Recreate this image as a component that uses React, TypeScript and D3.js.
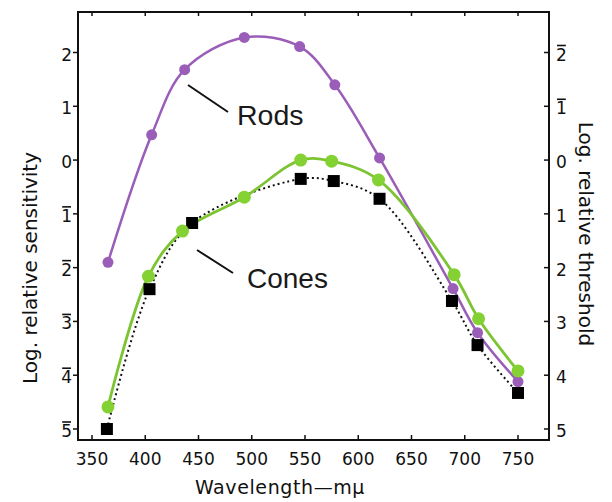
import React, { useRef, useEffect } from 'react';
import * as d3 from 'd3';

// values (wavelength in m\u03bc, log relative sensitivity)
const rodWavelengths = [365, 406, 437, 493, 545, 578, 620, 689, 712, 750];
const rodValues = [-1.9, 0.47, 1.68, 2.28, 2.11, 1.4, 0.04, -2.39, -3.21, -4.12];

const coneWavelengths = [365, 403, 435, 493, 546, 575, 619, 690, 713, 750];
const coneValues = [-4.59, -2.16, -1.32, -0.69, 0.0, -0.02, -0.37, -2.13, -2.95, -3.92];

const thresholdWavelengths = [364, 404, 444, 546, 577, 620, 688, 712, 750];
const thresholdValues = [-5.0, -2.4, -1.17, -0.35, -0.39, -0.72, -2.62, -3.44, -4.33];

const xTicks = [350, 400, 450, 500, 550, 600, 650, 700, 750];
const yTicks = [2, 1, 0, -1, -2, -3, -4, -5];

const W = 612;
const H = 502;
const FONT = '"DejaVu Sans", sans-serif';

export default function App() {
  const svgRef = useRef<SVGSVGElement>(null);

  useEffect(() => {
    const svg = d3.select(svgRef.current);
    svg.selectAll('*').remove();

    const left = 78, right = 549, top = 12, bottom = 440;

    const x = d3.scaleLinear().domain([350, 750]).range([92, 518]);
    const y = d3.scaleLinear().domain([2, -5]).range([52.5, 429]);

    const line = d3.line<[number, number]>()
      .x(d => x(d[0]))
      .y(d => y(d[1]))
      .curve(d3.curveCatmullRom.alpha(0.5));

    const zip = (a: number[], b: number[]) => a.map((v, i) => [v, b[i]] as [number, number]);
    const rods = zip(rodWavelengths, rodValues);
    const cones = zip(coneWavelengths, coneValues);
    const thresh = zip(thresholdWavelengths, thresholdValues);

    const g = svg.append('g');

    // frame
    g.append('rect')
      .attr('x', left).attr('y', top)
      .attr('width', right - left).attr('height', bottom - top)
      .attr('fill', 'none').attr('stroke', '#111').attr('stroke-width', 2);

    // x ticks (bottom + top, inward)
    xTicks.forEach(t => {
      g.append('line').attr('x1', x(t)).attr('x2', x(t)).attr('y1', bottom).attr('y2', bottom - 5)
        .attr('stroke', '#111').attr('stroke-width', 1.5);
      g.append('line').attr('x1', x(t)).attr('x2', x(t)).attr('y1', top).attr('y2', top + 4)
        .attr('stroke', '#111').attr('stroke-width', 1.5);
      g.append('text')
        .attr('x', x(t)).attr('y', 465)
        .attr('text-anchor', 'middle')
        .style('font-family', FONT).style('font-size', '17px').style('fill', '#111')
        .text(String(t));
    });

    // bar notation for negative logs: digit + small bar above it
    const label = (xPos: number, v: number, anchor: string, yPos: number) => {
      const txt = g.append('text')
        .attr('x', xPos).attr('y', yPos)
        .attr('text-anchor', anchor)
        .style('font-family', FONT).style('font-size', '17px').style('fill', '#111')
        .text(String(Math.abs(v)));
      if (v < 0) {
        const w = (txt.node() as SVGTextElement).getComputedTextLength();
        const x0 = anchor === 'end' ? xPos - w : xPos;
        g.append('line')
          .attr('x1', x0 + 1).attr('x2', x0 + w - 1)
          .attr('y1', yPos - 15).attr('y2', yPos - 15)
          .attr('stroke', '#111').attr('stroke-width', 1.6);
      }
    };

    // y ticks: left outward, right inward
    yTicks.forEach(t => {
      g.append('line').attr('x1', left).attr('x2', left - 5).attr('y1', y(t)).attr('y2', y(t))
        .attr('stroke', '#111').attr('stroke-width', 1.5);
      g.append('line').attr('x1', right).attr('x2', right - 5).attr('y1', y(t)).attr('y2', y(t))
        .attr('stroke', '#111').attr('stroke-width', 1.5);
      label(72, t, 'end', y(t) + 8);
      label(556, -t, 'start', y(t) + 8);
    });

    // axis titles
    g.append('text')
      .attr('x', 280).attr('y', 494)
      .attr('text-anchor', 'middle')
      .style('font-family', FONT).style('font-size', '19px').style('fill', '#111')
      .style('letter-spacing', '0.6px')
      .text('Wavelength\u2014m\u03bc');

    g.append('text')
      .attr('transform', 'translate(37,268) rotate(-90)')
      .attr('text-anchor', 'middle')
      .style('font-family', FONT).style('font-size', '20px').style('fill', '#111')
      .text('Log. relative sensitivity');

    g.append('text')
      .attr('transform', 'translate(579,234) rotate(90)')
      .attr('text-anchor', 'middle')
      .style('font-family', FONT).style('font-size', '20px').style('fill', '#111')
      .text('Log. relative threshold');

    // curves
    g.append('path').attr('d', line(thresh))
      .attr('fill', 'none').attr('stroke', '#111').attr('stroke-width', 2)
      .attr('stroke-dasharray', '2,3');
    g.append('path').attr('d', line(rods))
      .attr('fill', 'none').attr('stroke', '#9a5db8').attr('stroke-width', 2.5);
    g.append('path').attr('d', line(cones))
      .attr('fill', 'none').attr('stroke', '#7cc432').attr('stroke-width', 2.8);

    // markers
    g.selectAll('rect.sq').data(thresh).enter().append('rect')
      .attr('class', 'sq')
      .attr('x', d => x(d[0]) - 6).attr('y', d => y(d[1]) - 6)
      .attr('width', 12).attr('height', 12)
      .attr('fill', '#000');
    g.selectAll('circle.rod').data(rods).enter().append('circle')
      .attr('class', 'rod')
      .attr('cx', d => x(d[0])).attr('cy', d => y(d[1])).attr('r', 5.5)
      .attr('fill', '#9a5db8');
    g.selectAll('circle.cone').data(cones).enter().append('circle')
      .attr('class', 'cone')
      .attr('cx', d => x(d[0])).attr('cy', d => y(d[1])).attr('r', 6.5)
      .attr('fill', '#84d133');

    // labels with leader lines
    g.append('line').attr('x1', 188).attr('y1', 85).attr('x2', 228).attr('y2', 112)
      .attr('stroke', '#111').attr('stroke-width', 2);
    g.append('text')
      .attr('x', 237).attr('y', 125)
      .style('font-family', '"Liberation Sans", Arial, sans-serif').style('font-size', '28.5px').style('fill', '#1a1a1a')
      .text('Rods');

    g.append('line').attr('x1', 197).attr('y1', 250).attr('x2', 233).attr('y2', 273)
      .attr('stroke', '#111').attr('stroke-width', 2);
    g.append('text')
      .attr('x', 247).attr('y', 288)
      .style('font-family', '"Liberation Sans", Arial, sans-serif').style('font-size', '28px').style('fill', '#1a1a1a')
      .text('Cones');
  }, []);

  return (
    <svg
      ref={svgRef}
      width={W}
      height={H}
      style={{ position: 'absolute', left: 0, top: 0, background: '#fff' }}
    />
  );
}
